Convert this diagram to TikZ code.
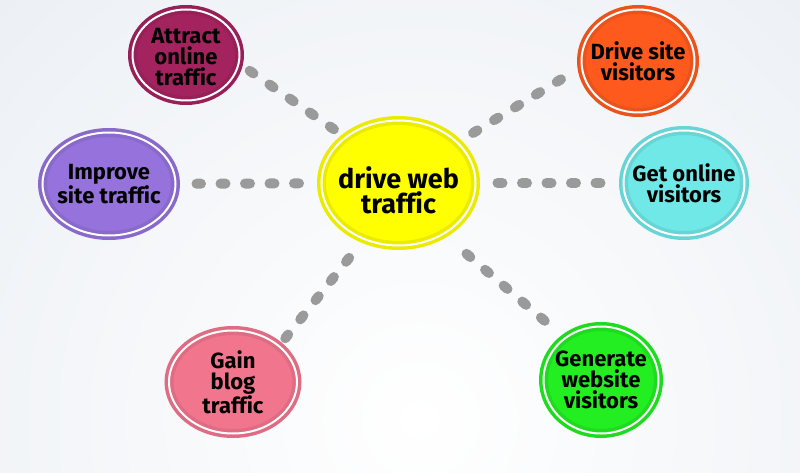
\documentclass[tikz,border=0pt]{standalone}
\usepackage{fontspec}
\setsansfont{Fira Sans}[Ligatures=NoCommon]
\usetikzlibrary{shapes.geometric}
\definecolor{bgblue}{HTML}{DCE3EC}
\definecolor{dotgray}{HTML}{9A9A9A}
\definecolor{webyellow}{HTML}{FFFF00}
\definecolor{attractred}{HTML}{A3235F}
\definecolor{improvepurple}{HTML}{9572DC}
\definecolor{driveorange}{HTML}{FF5A1E}
\definecolor{onlinecyan}{HTML}{70E8E8}
\definecolor{gainpink}{HTML}{F2758E}
\definecolor{generategreen}{HTML}{22EE22}

\begin{document}
\begin{tikzpicture}[x=1pt,y=-1pt,
		bubble/.style={ellipse,fill=#1,draw=#1!92!black,line width=3.5pt,double=white,double distance=2pt,inner sep=0pt},
		txt/.style={align=center,text=black,font=\sffamily\bfseries\fontsize{22}{21}\selectfont},
		link/.style={draw=dotgray,line width=10pt,line cap=round,dash pattern=on 5pt off 19.5pt}]
		% background
		\useasboundingbox (0,0) rectangle (800,473);
		\begin{scope}
			\clip (0,0) rectangle (800,473);
			\shade[inner color=white,outer color=bgblue] (420,420) circle (1100);
		\end{scope}
	
		\begin{scope}
			\node[bubble=webyellow,minimum width=154,minimum height=125] (web) at (398.5,183) {};
			\node[bubble=attractred,minimum width=107,minimum height=91] (attract) at (186,55) {};
			\node[bubble=improvepurple,minimum width=133,minimum height=103] (improve) at (109,184) {};
			\node[bubble=driveorange,minimum width=113,minimum height=103] (drive) at (638,61) {};
			\node[bubble=onlinecyan,minimum width=121,minimum height=105] (online) at (684,183) {};
			\node[bubble=gainpink,minimum width=128,minimum height=103] (gain) at (233,382) {};
			\node[bubble=generategreen,minimum width=115,minimum height=107] (generate) at (601,380) {};
		
			\node[txt,font=\sffamily\bfseries\fontsize{27}{25}\selectfont] (webt) at ([yshift=-7pt]web.center) {drive web\\traffic};
			\node[txt] (attractt) at ([yshift=-2pt]attract.center) {Attract\\online\\traffic};
			\node[txt] (improvet) at (improve.center) {Improve\\site traffic};
			\node[txt] (drivet) at (drive.center) {Drive site\\visitors};
			\node[txt] (onlinet) at (online.center) {Get online\\visitors};
			\node[txt] (gaint) at (gain.center) {Gain\\blog\\traffic};
			\node[txt] (generatet) at (generate.center) {Generate\\website\\visitors};
		
			\draw[link,shorten <=78.6pt,shorten >=77.5pt] ([yshift=8.9pt]web.center) -- ([yshift=28.4pt]attract.center);
			\draw[link,shorten <=87.4pt,shorten >=89.8pt] ([yshift=4.5pt]web.center) -- ([yshift=28.7pt]drive.center);
			\draw[link,shorten <=99.5pt,shorten >=87.5pt] (web.center) -- (improve.center);
			\draw[link,shorten <=99pt,shorten >=83pt] (web.center) -- (online.center);
			\draw[link,shorten <=79.3pt,shorten >=84pt] ([yshift=-12.8pt]web.center) -- ([yshift=-22pt]gain.center);
			\draw[link,shorten <=89.5pt,shorten >=73.7pt] ([yshift=-12.6pt]web.center) -- ([yshift=11pt]generate.center);
		\end{scope}
	\end{tikzpicture}
\end{document}
